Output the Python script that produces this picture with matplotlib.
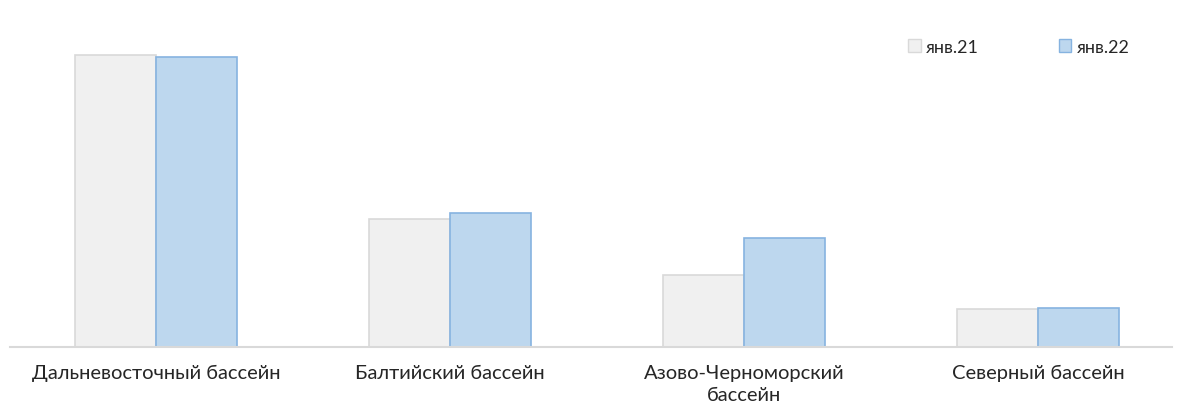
import numpy as np
import matplotlib.pyplot as plt
from matplotlib.patches import Patch

categories = ['Дальневосточный бассейн', 'Балтийский бассейн',
              'Азово-Черноморский\nбассейн', 'Северный бассейн']
jan21 = [292, 128, 72, 38]
jan22 = [290, 134, 109, 39]
series_names = ['янв.21', 'янв.22']

plt.rcParams['font.family'] = ['Lato', 'DejaVu Sans']

W, H = 1178, 406
fig = plt.figure(figsize=(W / 100, H / 100), dpi=100)
# axes spans pixel x 10..1172, baseline at y=348
ax = fig.add_axes([10 / W, 58 / H, 1162 / W, 328 / H])

x = np.arange(len(categories))
bw = 0.275
ax.bar(x - bw / 2, jan21, bw, color='#F0F0F0', edgecolor='#D9D9D9', linewidth=1.2)
ax.bar(x + bw / 2, jan22, bw, color='#BDD7EE', edgecolor='#86B3E0', linewidth=1.2)

ax.set_xlim(-146 / 294, 1016 / 294)
ax.set_ylim(0, 328)
for s in ['top', 'right', 'left']:
    ax.spines[s].set_visible(False)
ax.spines['bottom'].set_color('#D9D9D9')
ax.spines['bottom'].set_linewidth(1.5)
ax.set_yticks([])
ax.set_xticks(x)
ax.set_xticklabels(categories, fontsize=14.5, color='#262626', linespacing=1.4)
ax.tick_params(axis='x', length=0, pad=12)

handles = [Patch(facecolor='#F0F0F0', edgecolor='#D9D9D9'),
           Patch(facecolor='#BDD7EE', edgecolor='#86B3E0')]
fig.legend(handles, series_names, loc='center left',
           bbox_to_anchor=(892 / W, 1 - 48 / H), ncol=2, frameon=False,
           fontsize=13, handlelength=0.7, handleheight=0.7,
           handletextpad=0.3, columnspacing=4.4, labelcolor='#262626')

fig.savefig('out.png', dpi=100)
